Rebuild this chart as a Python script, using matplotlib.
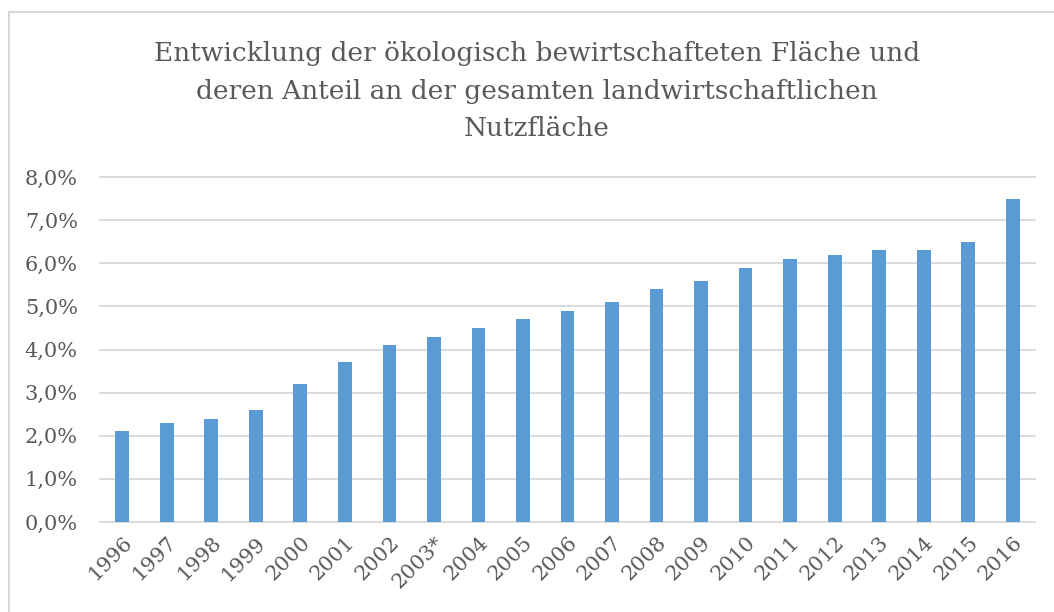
import matplotlib

matplotlib.use("Agg")
import matplotlib.pyplot as plt
from matplotlib.lines import Line2D
from matplotlib.ticker import FuncFormatter, MultipleLocator

years = ["1996", "1997", "1998", "1999", "2000", "2001", "2002", "2003*",
         "2004", "2005", "2006", "2007", "2008", "2009", "2010", "2011",
         "2012", "2013", "2014", "2015", "2016"]
share = [0.021, 0.023, 0.024, 0.026, 0.032, 0.037, 0.041, 0.043,
         0.045, 0.047, 0.049, 0.051, 0.054, 0.056, 0.059, 0.061,
         0.062, 0.063, 0.063, 0.065, 0.075]

title = ("Entwicklung der ökologisch bewirtschafteten Fläche und\n"
         "deren Anteil an der gesamten landwirtschaftlichen\n"
         "Nutzfläche")

TXT = "#595959"
GRID = "#d9d9d9"
BAR = "#5b9bd5"
W, H = 1054, 612

plt.rcParams["font.family"] = ["DejaVu Serif"]

fig = plt.figure(figsize=(W / 100, H / 100), dpi=100)
fig.patch.set_facecolor("white")

# chart frame like the Excel chart border (only left/top edges are in view)
fx, fy = 8.5 / W, 1 - 11.5 / H
fig.lines.append(Line2D([fx, fx], [0, fy], transform=fig.transFigure,
                        color=GRID, linewidth=1.5))
fig.lines.append(Line2D([fx, 1.02], [fy, fy], transform=fig.transFigure,
                        color=GRID, linewidth=1.5))

ax = fig.add_axes([100 / W, 90 / H, 935 / W, 345 / H])
x = range(len(years))
ax.bar(x, share, width=0.31, color=BAR, zorder=3)
ax.set_xlim(-0.5, len(years) - 0.5)
ax.set_ylim(0, 0.08)
ax.yaxis.set_major_locator(MultipleLocator(0.01))
ax.yaxis.set_major_formatter(FuncFormatter(lambda v, _: f"{v * 100:.1f}%".replace(".", ",")))
ax.grid(axis="y", color=GRID, linewidth=1.3, zorder=0)
for gl in ax.get_ygridlines():
    gl.set_clip_on(False)
for s in ax.spines.values():
    s.set_visible(False)

ax.set_xticks(list(x))
ax.set_xticklabels(years, rotation=45, ha="right", rotation_mode="anchor")
ax.tick_params(axis="y", length=0, pad=16, labelsize=15, labelcolor=TXT)
ax.tick_params(axis="x", length=0, pad=8, labelsize=15, labelcolor=TXT)

fig.text(537 / W, 1 - 91 / H, title, ha="center", va="center",
         fontsize=19, color=TXT, linespacing=1.62)

fig.savefig("out.png", dpi=100, facecolor="white")
